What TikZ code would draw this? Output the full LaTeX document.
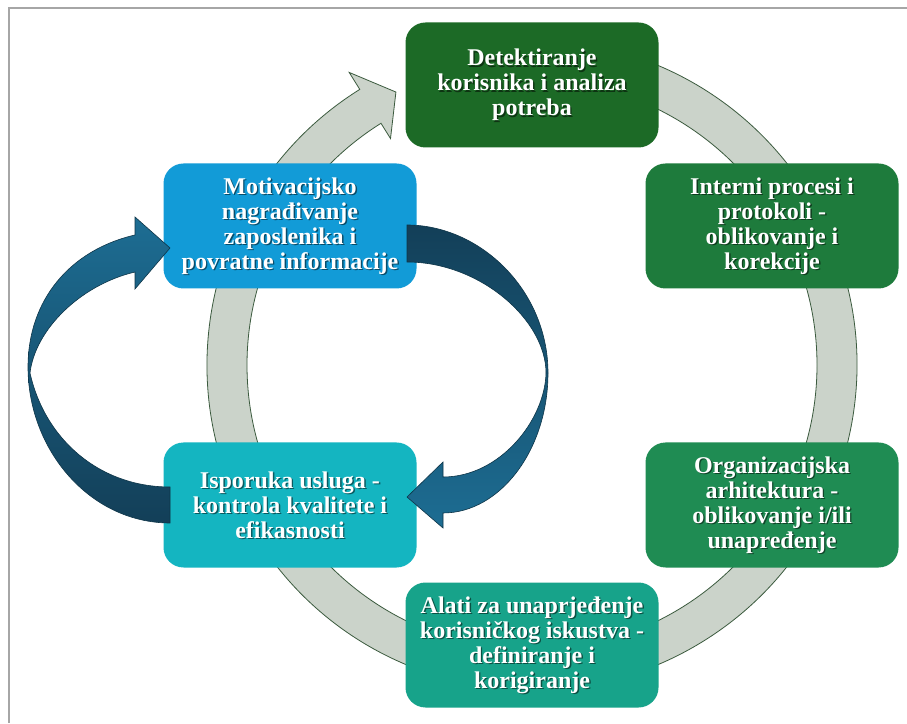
\documentclass[tikz,border=0pt]{standalone}
\usepackage{fontspec}
\setmainfont{Liberation Serif}
\usetikzlibrary{calc}
\definecolor{cA}{HTML}{1C6A26}
\definecolor{cB}{HTML}{1E7B3C}
\definecolor{cC}{HTML}{1F8C53}
\definecolor{cD}{HTML}{17A38A}
\definecolor{cE}{HTML}{14B5C1}
\definecolor{cF}{HTML}{129BD7}
\definecolor{ringfill}{HTML}{CBD3CA}
\definecolor{ringline}{HTML}{3B5A3E}
\definecolor{arrlight}{HTML}{1D6D93}
\definecolor{arrdark}{HTML}{133F58}
\definecolor{arrline}{HTML}{0E3548}
\definecolor{framec}{HTML}{A6A6A6}
\newcommand{\cyclebox}[4]{%
  \node[cbox, fill=#2] (#1) at (#3) {};
  \node[ctext, text=black, opacity=0.5] (#1s) at ($(#3)+(1.4,-1.4)$) {#4};
  \node[ctext] (#1t) at (#3) {#4};
}
\begin{document}
\begin{tikzpicture}[x=1pt,y=1pt,
  cbox/.style={rounded corners=20pt, minimum width=253pt, minimum height=125pt, inner sep=0pt},
  ctext/.style={align=center, text=white, font=\bfseries\fontsize{24}{25}\selectfont, inner sep=0pt},
  ring/.style={fill=ringfill, draw=ringline, line width=0.8pt},
  darrow/.style={draw=arrline, line width=0.6pt}]
\useasboundingbox (0,0) rectangle (907,723);
\fill[white] (0,0) rectangle (907,723);
\draw[framec, line width=1.5pt] (9,0) -- (9,715) -- (907,715);
% cycle ring
\coordinate (c) at (532,358);
\draw[ring] ($(c)+(122:325)$) arc[start angle=122, end angle=450, radius=325pt]
  -- ($(c)+(450:285)$) arc[start angle=450, end angle=122, radius=285pt]
  -- ($(c)+(122:267)$) -- ($(c)+(116.5:305)$) -- ($(c)+(122:345)$) -- cycle;
% boxes
\cyclebox{b1}{cA}{532,638}{Detektiranje\\korisnika i analiza\\potreba}
\cyclebox{b2}{cB}{772,497}{Interni procesi i\\protokoli -\\oblikovanje i\\korekcije}
\cyclebox{b3}{cC}{772,218}{Organizacijska\\arhitektura -\\oblikovanje i/ili\\unapređenje}
\cyclebox{b4}{cD}{532,78}{Alati za unaprjeđenje\\korisničkog iskustva -\\definiranje i\\korigiranje}
\cyclebox{b5}{cE}{290,218}{Isporuka usluga -\\kontrola kvalitete i\\efikasnosti}
\cyclebox{b6}{cF}{290,497}{Motivacijsko\\nagrađivanje\\zaposlenika i\\povratne informacije}
% left curved arrow (b5 -> b6)
\draw[darrow, top color=arrlight, bottom color=arrdark]
  (170,236) .. controls (100,236) and (45,283) .. (30,350)
  .. controls (35,393) and (80,438) .. (135,451)
  -- (135,434) -- (170,475) -- (135,506) -- (135,488)
  .. controls (70,473) and (28,423) .. (28,356)
  .. controls (28,273) and (90,200) .. (170,200) -- cycle;
% right curved arrow (b6 -> b5)
\draw[darrow, top color=arrdark, bottom color=arrlight]
  (407,498) .. controls (480,498) and (548,433) .. (548,350)
  .. controls (548,273) and (500,210) .. (443,210)
  -- (443,195) -- (407,226) -- (443,261) -- (443,246)
  .. controls (500,246) and (545,303) .. (546,350)
  .. controls (546,403) and (480,461) .. (407,461) -- cycle;
\end{tikzpicture}
\end{document}
